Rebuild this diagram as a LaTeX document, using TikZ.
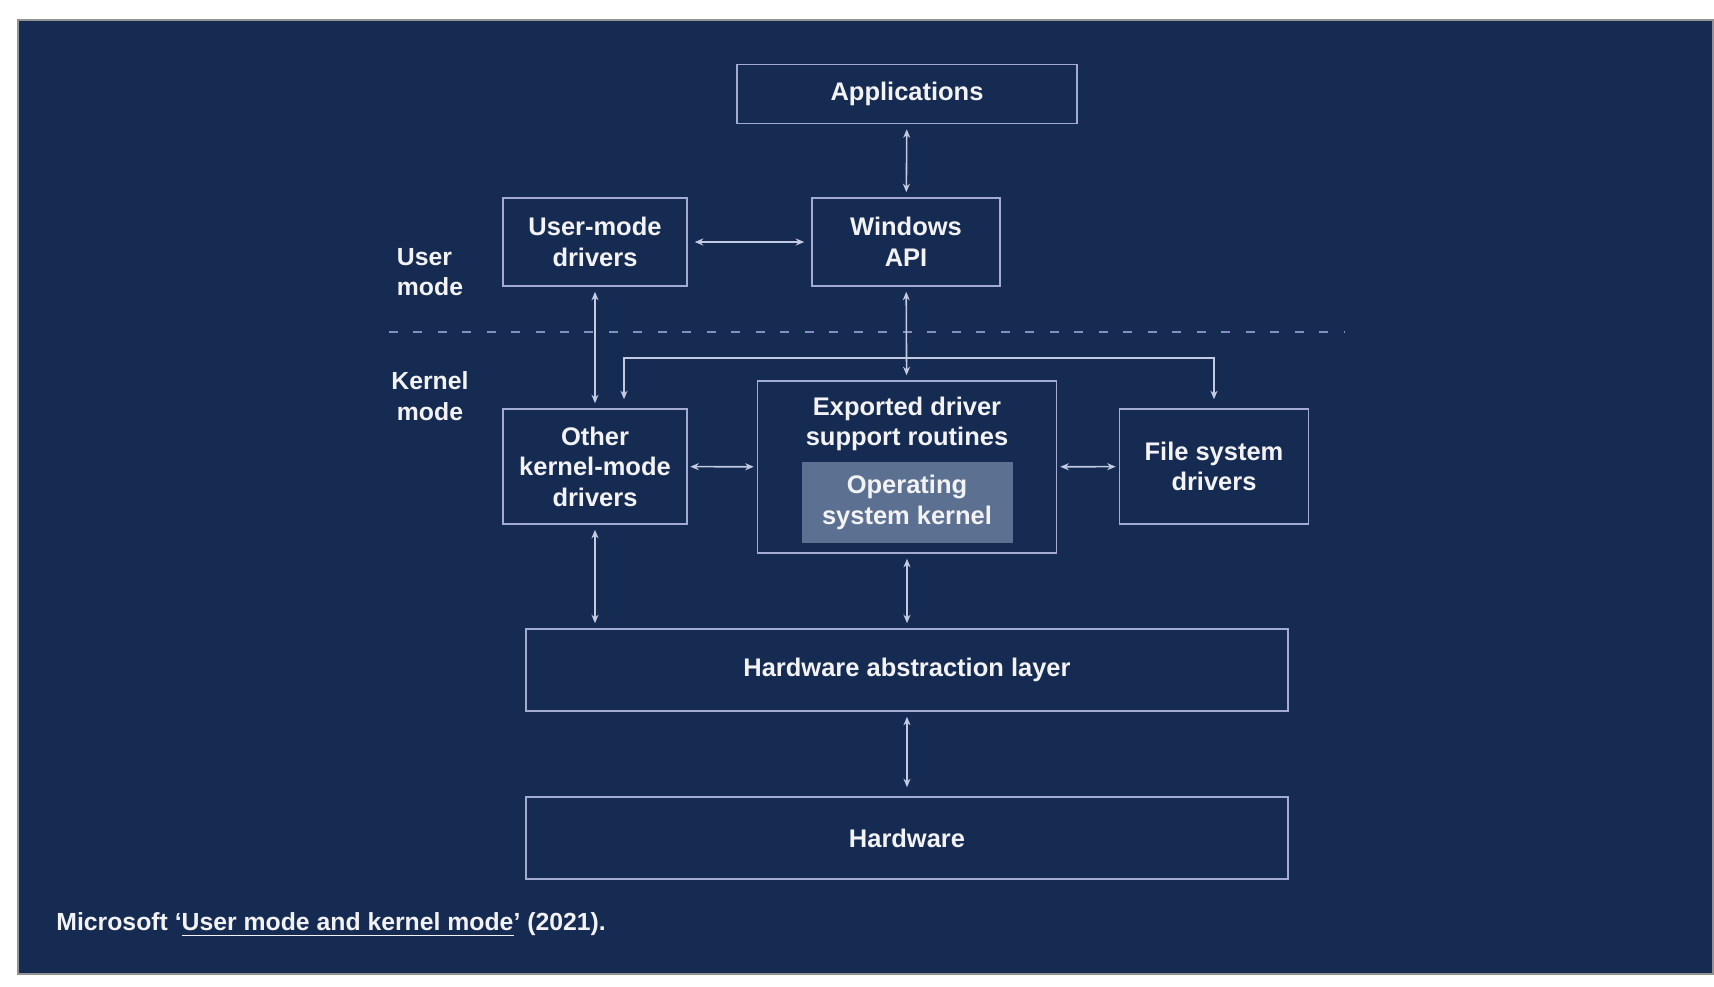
\documentclass[tikz,border=0pt]{standalone}
\usepackage{fontspec}
\setmainfont{Liberation Sans}
\usetikzlibrary{arrows.meta}

\definecolor{navy}{HTML}{152B51}
\definecolor{edge}{HTML}{A3AAD3}
\definecolor{core}{HTML}{5C7191}
\definecolor{ink}{HTML}{F3F3F6}
\definecolor{wire}{HTML}{C4CAE2}
\definecolor{rule}{HTML}{8190BE}

\begin{document}
\begin{tikzpicture}[
  font=\fontsize{7.25}{8.7}\selectfont\bfseries,
  >={Stealth[length=0.085cm,width=0.07cm]},
  block/.style={draw=edge, line width=0.45pt, text=ink, align=center, inner sep=0pt},
  link/.style={wire, line width=0.45pt, <->, shorten <=0.05cm, shorten >=0.05cm},
  modelabel/.style={text=ink, font=\fontsize{7.05}{8.7}\selectfont\bfseries}
]
  \useasboundingbox (0,0) rectangle (17.14,-9.86);

  % Slide background
  \fill[white] (0,0) rectangle (17.14,-9.86);
  \draw[gray!85, line width=0.5pt, fill=navy] (0.18,-0.20) rectangle (17.13,-9.74);

  % User mode
  \node[block, minimum width=3.40cm, minimum height=0.59cm] (apps) at (9.07,-0.94) {Applications};
  \node[block, minimum width=1.84cm, minimum height=0.88cm] (umd) at (5.95,-2.42) {User-mode\\drivers};
  \node[block, minimum width=1.88cm, minimum height=0.88cm] (winapi) at (9.06,-2.42) {Windows\\API};
  \node[modelabel, align=left] (userlbl) at (4.30,-2.72) {User\\mode};

  % Boundary between the two modes
  \draw[rule, line width=0.65pt, dash pattern=on 0.09cm off 0.155cm] (3.885,-3.32) -- (13.44,-3.32);
  \node[modelabel, align=center] (kernellbl) at (4.30,-3.96) {Kernel\\mode};

  % Kernel mode
  \node[block, minimum width=1.84cm, minimum height=1.15cm] (okmd) at (5.95,-4.665) {Other\\kernel-mode\\drivers};
  \node[block, minimum width=2.99cm, minimum height=1.72cm] (exported) at (9.07,-4.67) {};
  \node[text=ink, align=center] (exptext) at (9.07,-4.24) {Exported driver\\support routines};
  \node[fill=core, text=ink, align=center, inner sep=0pt, minimum width=2.11cm, minimum height=0.81cm] (kernel) at (9.07,-5.025) {Operating\\system kernel};
  \node[block, minimum width=1.89cm, minimum height=1.15cm] (fsd) at (12.14,-4.665) {File system\\drivers};
  \node[block, minimum width=7.62cm, minimum height=0.82cm] (hal) at (9.07,-6.70) {Hardware abstraction layer};
  \node[block, minimum width=7.62cm, minimum height=0.82cm] (hw) at (9.07,-8.38) {Hardware};

  % Connectors
  \coordinate (split) at (9.06,-3.58);
  \draw[link] (apps) -- (winapi);
  \draw[link, shorten <=0.07cm, shorten >=0.07cm] (umd) -- (winapi);
  \draw[link] (umd) -- (okmd);
  \draw[link] (winapi) -- (exported);
  \draw[link, shorten <=0.09cm, shorten >=0.09cm] ([xshift=0.29cm]okmd.north) |- (split) -| (fsd.north);
  \draw[link, shorten <=0.025cm, shorten >=0.03cm] (okmd) -- (exported);
  \draw[link, shorten <=0.03cm, shorten >=0.03cm] (exported) -- (fsd);
  \draw[link] (okmd.south) -- (okmd.south |- hal.north);
  \draw[link] (exported.south) -- (exported.south |- hal.north);
  \draw[link, shorten >=0.09cm] (hal) -- (hw);

  \node[anchor=west, text=ink, font=\fontsize{7.05}{8.7}\selectfont\bfseries] (credit) at (0.44,-9.25) {Microsoft `\underline{User mode and kernel mode}' (2021).};
\end{tikzpicture}
\end{document}
